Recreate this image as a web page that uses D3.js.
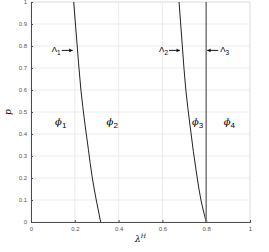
<!DOCTYPE html>
<html>
<head>
<meta charset="utf-8">
<script src="https://cdn.jsdelivr.net/npm/d3@7"></script>
<style>
body { margin: 0; background: #fff; }
svg text { font-family: "Liberation Sans", Arial, sans-serif; }
</style>
</head>
<body>
<div class="chart-container"></div>
<script>
const svgWidth = 269;
const svgHeight = 252;
const margin = {top: 2, right: 19, bottom: 30, left: 31};
const graphWidth = svgWidth - margin.left - margin.right;
const graphHeight = svgHeight - margin.top - margin.bottom;

// boundary curves, [lambda, p]
const curve1 = [[0.318, 0], [0.298, 0.1], [0.280, 0.2], [0.262, 0.33], [0.247, 0.44], [0.228, 0.6], [0.211, 0.8], [0.195, 1]];
const curve2 = [[0.8, 0], [0.776, 0.1], [0.759, 0.2], [0.726, 0.44], [0.707, 0.6], [0.691, 0.8], [0.676, 1]];
const curve3 = [[0.8, 0], [0.8, 1]];

const xTicks = [0, 0.2, 0.4, 0.6, 0.8, 1];
const yTicks = [0, 0.1, 0.2, 0.3, 0.4, 0.5, 0.6, 0.7, 0.8, 0.9, 1];

// region labels [name, subscript, lambda, p]
const regionLabels = [["\u03d5", "1", 0.11, 0.44], ["\u03d5", "2", 0.345, 0.44], ["\u03d5", "3", 0.735, 0.44], ["\u03d5", "4", 0.88, 0.44]];
// boundary labels [name, subscript, lambda, p, dir]
const boundaryLabels = [["\u039b", "1", 0.195, 0.78, 1], ["\u039b", "2", 0.685, 0.78, 1], ["\u039b", "3", 0.8, 0.78, -1]];

const svg = d3.select(".chart-container")
              .append("svg")
              .attr("width", svgWidth)
              .attr("height", svgHeight);

const g = svg.append("g").attr("transform", "translate(" + margin.left + "," + margin.top + ")");

const x = d3.scaleLinear().domain([0, 1]).range([0, graphWidth]);
const y = d3.scaleLinear().domain([0, 1]).range([graphHeight, 0]);

// grid
g.selectAll(".gx").data(xTicks).enter().append("line")
 .attr("x1", d => x(d)).attr("x2", d => x(d))
 .attr("y1", 0).attr("y2", graphHeight)
 .style("stroke", "#e6e6e6").style("stroke-width", 0.8);
g.selectAll(".gy").data(yTicks).enter().append("line")
 .attr("x1", 0).attr("x2", graphWidth)
 .attr("y1", d => y(d)).attr("y2", d => y(d))
 .style("stroke", "#e6e6e6").style("stroke-width", 0.8);

// top/right frame
g.append("path")
 .attr("d", "M0,0H" + graphWidth + "V" + graphHeight)
 .style("fill", "none").style("stroke", "#e0e0e0").style("stroke-width", 0.8);

const xAxis = d3.axisBottom(x).tickValues(xTicks).tickSize(-2).tickPadding(5).tickFormat(d3.format("~g"));
const yAxis = d3.axisLeft(y).tickValues(yTicks).tickSize(-2).tickPadding(4).tickFormat(d3.format("~g"));

const gx = g.append("g").attr("transform", "translate(0," + graphHeight + ")").call(xAxis);
const gy = g.append("g").call(yAxis);
[gx, gy].forEach(a => {
  a.select(".domain").style("stroke", "#4d4d4d").style("stroke-width", 1);
  a.selectAll(".tick line").style("stroke", "#4d4d4d");
  a.selectAll("text").style("font-size", "6px").style("fill", "#555");
});

const line = d3.line().x(d => x(d[0])).y(d => y(d[1])).curve(d3.curveMonotoneY);

g.append("path").datum(curve1).attr("d", line)
 .style("fill", "none").style("stroke", "#222").style("stroke-width", 1);
g.append("path").datum(curve2).attr("d", line)
 .style("fill", "none").style("stroke", "#222").style("stroke-width", 1);
g.append("path").datum(curve3).attr("d", d3.line().x(d => x(d[0])).y(d => y(d[1])))
 .style("fill", "none").style("stroke", "#808080").style("stroke-width", 1.6);

// arrowhead
svg.append("defs").append("marker")
   .attr("id", "arrow")
   .attr("viewBox", "0 0 10 10")
   .attr("refX", 10).attr("refY", 5)
   .attr("markerWidth", 4.5).attr("markerHeight", 4.5)
   .attr("orient", "auto-start-reverse")
   .append("path").attr("d", "M0,0L10,5L0,10L3,5Z").style("fill", "#000");

boundaryLabels.forEach(b => {
  const bx = x(b[2]);
  const by = y(b[3]);
  const tip = bx - b[4] * 1;
  const tail = tip - b[4] * 11;
  g.append("line")
   .attr("x1", tail).attr("x2", tip)
   .attr("y1", by).attr("y2", by)
   .style("stroke", "#000").style("stroke-width", 0.9)
   .attr("marker-end", "url(#arrow)");
  const t = g.append("text")
   .attr("x", b[4] > 0 ? tail - 1 : tail + 2)
   .attr("y", by + 2)
   .attr("text-anchor", b[4] > 0 ? "end" : "start")
   .style("font-size", "8px")
   .style("fill", "#000");
  t.append("tspan").text(b[0]);
  t.append("tspan").attr("dy", 2.5).style("font-size", "6.5px").text(b[1]);
});

regionLabels.forEach(r => {
  const t = g.append("text")
   .attr("x", x(r[2]))
   .attr("y", y(r[3]))
   .style("font-size", "10px")
   .style("font-family", "'DejaVu Serif', serif")
   .style("fill", "#000");
  t.append("tspan").style("font-style", "italic").style("fill", "#000").text(r[0]);
  t.append("tspan").attr("dy", 3).style("font-size", "8px")
   .style("font-family", "'Liberation Sans', sans-serif").style("fill", "#000").text(r[1]);
});

// axis labels
svg.append("text")
   .attr("x", margin.left + graphWidth / 2)
   .attr("y", svgHeight - 10)
   .attr("text-anchor", "middle")
   .style("font-size", "9px")
   .style("font-style", "italic")
   .style("font-family", "'DejaVu Serif', serif")
   .html("\u03bb<tspan dy='-4' font-size='6px'>H</tspan>");

svg.append("text")
   .attr("transform", "translate(11," + (margin.top + graphHeight / 2) + ") rotate(-90)")
   .attr("text-anchor", "middle")
   .style("font-size", "9px")
   .style("font-style", "italic")
   .style("font-family", "'DejaVu Serif', serif")
   .text("p");
</script>
</body>
</html>
